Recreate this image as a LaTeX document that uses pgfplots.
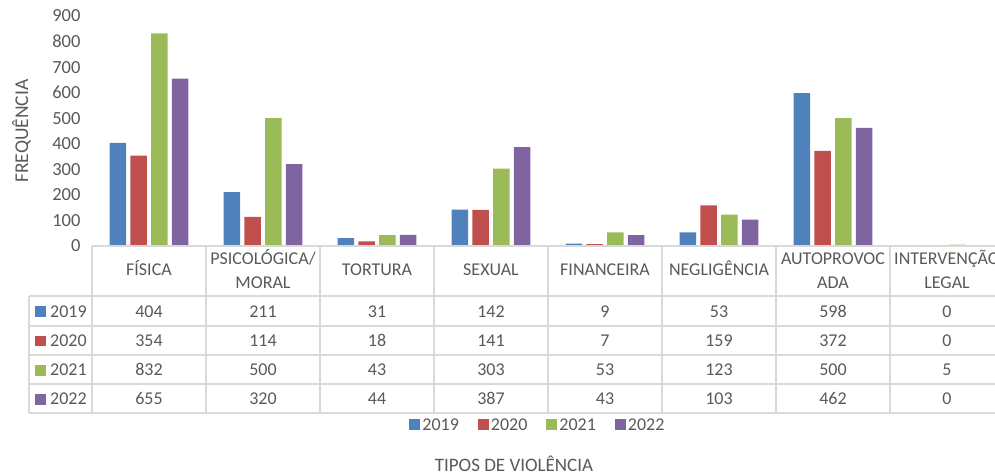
\documentclass[border=0pt]{standalone}
\usepackage{pgfplots}
\pgfplotsset{compat=1.18}
\usepackage{pgfplotstable}
\usepackage{fontspec}
\setmainfont{Carlito}
\definecolor{fg}{HTML}{595959}
\definecolor{gridc}{HTML}{D9D9D9}
\definecolor{c1}{HTML}{4F81BD}
\definecolor{c2}{HTML}{C0504D}
\definecolor{c3}{HTML}{9BBB59}
\definecolor{c4}{HTML}{8064A2}
\pgfplotstableread{
x a b c d
0 404 354 832 655
1 211 114 500 320
2 31 18 43 44
3 142 141 303 387
4 9 7 53 43
5 53 159 123 103
6 598 372 500 462
7 0 0 5 0
}\datatable
\newcommand{\fs}[1]{\fontsize{#1}{#1}\selectfont}
\begin{document}
\begin{tikzpicture}
\begin{axis}[
  at={(92pt,228pt)}, anchor=south west,
  scale only axis, width=912pt, height=230pt,
  xmin=-0.5, xmax=7.5, ymin=0, ymax=900, enlargelimits=false,
  ybar=4.2pt, bar width=16.5pt,
  axis line style={draw=none},
  major tick length=0pt,
  xtick=\empty,
  ytick={0,100,...,900},
  /pgf/number format/assume math mode=true,
  yticklabel style={font=\fs{18.5}, text=fg, anchor=east, xshift=-8pt},
  legend columns=4,
  legend style={at={(axis description cs:0.489,-0.778)}, anchor=center,
    draw=none, fill=none, font=\fs{18}, text=fg,
    /tikz/every even column/.append style={column sep=17pt}},
  legend image code/.code={\fill[#1] (0pt,-5.5pt) rectangle (11pt,5.5pt);},
  clip=false,
]
\addplot[fill=c1, draw=none] table[x=x,y=a]{\datatable};
\addplot[fill=c2, draw=none] table[x=x,y=b]{\datatable};
\addplot[fill=c3, draw=none] table[x=x,y=c]{\datatable};
\addplot[fill=c4, draw=none] table[x=x,y=d]{\datatable};
\legend{2019,2020,2021,2022}
\end{axis}
\begin{scope}[x=1pt,y=1pt]
  % table grid (y = 474 - pixel row)
  \draw[gridc, line width=1.3pt] (92,228) -- (1004,228);
  \foreach \yy in {178,148,119,90,61} \draw[gridc, line width=1.3pt] (29,\yy) -- (1004,\yy);
  \draw[gridc, line width=1.3pt] (29,178) -- (29,61);
  \foreach \xx in {92,206,320,434,548,662,776,890,1004} \draw[gridc, line width=1.3pt] (\xx,228) -- (\xx,61);
  % header
  \foreach \i/\t in {0/FÍSICA,2/TORTURA,3/SEXUAL,4/FINANCEIRA,5/NEGLIGÊNCIA}
    \node[anchor=base, text=fg, font=\fs{18}, inner sep=0pt] at ({149+114*\i},198) {\t};
  \foreach \i/\t/\u in {1/PSICOLÓGICA\slash/MORAL,6/AUTOPROVOC/ADA,7/INTERVENÇÃO/LEGAL}{
    \node[anchor=base, text=fg, font=\fs{18}, inner sep=0pt] at ({149+114*\i},209) {\t};
    \node[anchor=base, text=fg, font=\fs{18}, inner sep=0pt] at ({149+114*\i},185) {\u};
  }
  % rows
  \foreach \col/\r/\yr/\cc in {a/0/2019/c1,b/1/2020/c2,c/2/2021/c3,d/3/2022/c4}{
    \fill[\cc] (35,{157-29.3*\r}) rectangle (45.6,{167.6-29.3*\r});
    \node[anchor=base west, text=fg, font=\fs{18}, inner sep=0pt] at (50,{157-29.3*\r}) {\yr};
    \foreach \i in {0,...,7}{
      \pgfplotstablegetelem{\i}{\col}\of\datatable
      \node[anchor=base, text=fg, font=\fs{18}, inner sep=0pt] at ({149+114*\i},{157-29.3*\r}) {\pgfplotsretval};
    }
  }
  \node[anchor=base, text=fg, font=\fs{19.5}, inner sep=0pt, rotate=90] at (28,343) {FREQUÊNCIA};
  \node[anchor=base, text=fg, font=\fs{19}, inner sep=0pt] at (514,3) {TIPOS DE VIOLÊNCIA};
\end{scope}
\pgfresetboundingbox
\useasboundingbox (0,0) rectangle (995pt,474pt);
\end{tikzpicture}
\end{document}
